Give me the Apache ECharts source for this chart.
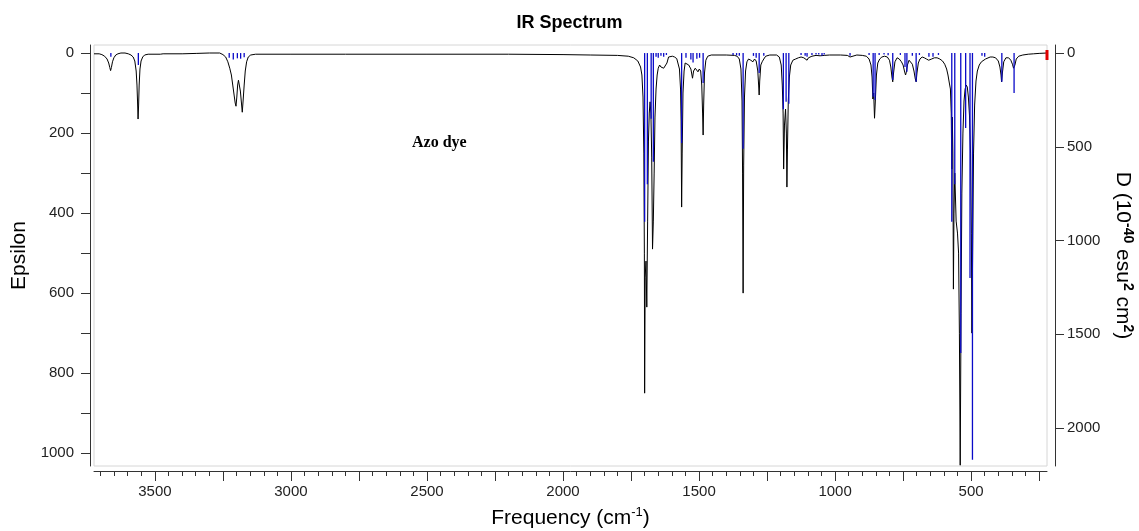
<!DOCTYPE html>
<html>
<head>
<meta charset="utf-8">
<script src="https://cdn.jsdelivr.net/npm/echarts@6/dist/echarts.min.js"></script>
<style>
html,body{margin:0;padding:0;background:#fff;}
#chart{width:1139px;height:531px;}
</style>
</head>
<body>
<div id="chart"></div>
<script>
// ---------- data ----------
var xTickMinor = [];
for (var t = 250; t <= 3700; t += 50) xTickMinor.push(t);
var xTickMajor = [250, 500, 750, 1000, 1250, 1500, 1750, 2000, 2250, 2500, 2750, 3000, 3250, 3500];
var xLabels = [500, 1000, 1500, 2000, 2500, 3000, 3500];
var epsTicks = [0, 100, 200, 300, 400, 500, 600, 700, 800, 900, 1000];
var epsLabels = [0, 200, 400, 600, 800, 1000];
var dTicks = [0, 500, 1000, 1500, 2000];

// broadened spectrum (frequency cm-1, epsilon)
var curve = [
[3724,2],[3705,2],[3695,4],[3685,8],[3676,15],[3670,25],[3666,36],[3663,44],[3660,36],[3656,22],[3651,12],[3644,5],[3636,2],[3625,0],[3610,0],[3598,2],[3588,5],[3580,10],[3574,20],[3569,45],[3566,80],[3564,120],[3562,165],[3560,130],[3558,80],[3555,40],[3551,20],[3545,10],[3538,5],[3525,3],[3480,3],[3470,2],[3400,2],[3346,1],[3300,0],[3262,0],[3250,4],[3240,10],[3232,22],[3225,38],[3219,55],[3214,80],[3209,105],[3205,125],[3202,133],[3199,110],[3196,80],[3193,68],[3190,72],[3186,95],[3182,125],[3179,148],[3176,120],[3172,80],[3168,45],[3163,22],[3157,10],[3148,5],[3130,3],
[3000,3],[2800,3],[2500,3],[2200,3],[2000,4],[1900,5],[1800,6],[1760,8],[1740,12],[1725,20],[1715,35],[1710,55],[1706,110],[1703,250],[1701,500],[1700,850],[1698,560],[1695,520],[1692,635],[1689,420],[1686,220],[1683,150],[1680,122],[1677,150],[1674,260],[1671,490],[1668,420],[1665,300],[1662,160],[1658,90],[1654,55],[1650,38],[1645,30],[1640,35],[1636,32],[1630,38],[1624,35],[1618,25],[1612,10],[1605,6],[1598,8],[1590,10],[1582,14],[1577,18],[1572,40],[1568,90],[1566,170],[1564,385],[1562,250],[1559,100],[1555,45],[1551,25],[1545,28],[1538,30],[1530,40],[1524,63],[1520,45],[1514,38],[1508,40],[1504,47],[1499,40],[1494,45],[1490,80],[1487,150],[1485,205],[1483,130],[1480,50],[1475,18],[1468,8],[1455,5],[1400,5],[1370,6],[1360,8],[1352,15],[1346,40],[1342,120],[1340,300],[1338,600],[1336,280],[1333,110],[1329,45],[1324,22],[1318,15],[1310,18],[1302,22],[1296,15],[1290,20],[1284,45],[1281,80],[1279,105],[1277,70],[1273,30],[1268,22],[1262,15],[1255,8],[1240,5],[1215,5],[1205,10],[1198,30],[1194,80],[1191,150],[1189,290],[1186,180],[1182,140],[1179,200],[1177,335],[1175,240],[1172,120],[1168,60],[1163,30],[1155,18],[1145,15],[1135,12],[1125,10],[1115,12],[1108,15],[1103,18],[1098,12],[1085,8],[1070,6],[1055,7],[1048,10],[1040,6],[1020,5],[980,5],[955,6],[945,10],[938,6],[920,5],[900,6],[885,8],[875,15],[868,30],[864,60],[861,115],[858,100],[855,163],[852,120],[848,55],[843,25],[836,15],[828,10],[818,8],[808,10],[800,18],[795,35],[791,60],[788,72],[785,50],[780,22],[772,12],[764,15],[756,22],[750,30],[745,45],[741,55],[738,48],[734,30],[728,18],[722,20],[716,28],[710,45],[705,65],[702,72],[699,50],[694,25],[688,15],[680,10],[672,12],[664,15],[656,18],[651,20],[645,15],[635,12],[625,12],[615,15],[605,20],[597,28],[590,40],[585,55],[580,75],[576,90],[573,150],[571,290],[569,160],[567,250],[565,590],[563,400],[560,300],[555,420],[550,450],[546,500],[543,700],[540,1030],[537,650],[534,350],[530,200],[526,120],[522,90],[518,80],[514,85],[510,110],[506,155],[502,250],[499,450],[497,700],[494,480],[491,250],[487,130],[482,70],[477,45],[470,30],[462,22],[455,18],[447,15],[440,12],[430,10],[420,10],[410,12],[400,20],[394,35],[390,55],[388,72],[385,50],[380,22],[372,12],[362,12],[354,18],[348,28],[344,38],[342,42],[339,30],[334,15],[325,8],[310,5],[290,3],[270,2],[250,1],[221,0]
];

// stick spectrum (frequency cm-1, D in 10^-40 esu^2 cm^2)
var sticks = [
[3662,20],[3561,64],[3227,25],[3212,35],[3197,28],[3185,30],[3172,22],
[1700,900],[1690,700],[1676,350],[1668,580],[1658,20],[1650,25],[1640,15],[1630,20],[1620,10],
[1564,480],[1548,25],[1530,35],[1522,50],[1508,30],[1498,25],[1485,160],
[1375,10],[1362,12],[1352,15],[1338,510],[1300,15],[1290,25],[1279,107],[1262,15],
[1190,300],[1180,260],[1170,270],[1125,10],[1110,15],[1103,20],[1085,10],[1070,8],[1060,8],[1048,15],[1040,8],
[945,15],[875,10],[860,233],[853,250],[838,10],[820,8],[805,12],[788,144],[760,10],[743,75],[736,100],[716,15],[702,153],[690,10],[655,20],[640,20],[620,10],
[571,900],[560,700],[538,1600],[520,400],[504,1200],[495,2170],[460,15],[450,20],[387,153],[342,213]
];

// ---------- chart ----------
var chart = echarts.init(document.getElementById('chart'), null, {renderer: 'canvas'});
var FONT = 'Liberation Sans, Arial, sans-serif';
function plain(v) { return String(v); }
var labelStyle = {color: '#222', fontSize: 15, fontFamily: FONT, formatter: plain};
var xMin = 221, xMax = 3724;

var option = {
  animation: false,
  backgroundColor: '#fff',
  title: {
    text: 'IR Spectrum', left: 'center', top: 9,
    textStyle: {fontSize: 18, fontWeight: 'bold', fontFamily: FONT, color: '#000'}
  },
  grid: {left: 94, right: 92, top: 45, bottom: 65, show: true, borderColor: '#d6d6d6', borderWidth: 1,
    containLabel: false, outerBoundsMode: 'none'},
  graphic: [{
    type: 'text', left: 412, top: 135,
    style: {text: 'Azo dye', fontSize: 16, fontWeight: 'bold', fontFamily: 'Liberation Serif, Times New Roman, serif', fill: '#000'}
  }],
  xAxis: [{
    type: 'value', min: xMin, max: xMax, inverse: true, position: 'bottom', offset: 5,
    axisLine: {show: true, onZero: false, lineStyle: {color: '#333', width: 1}},
    axisTick: {show: true, length: 5, customValues: xTickMinor, lineStyle: {color: '#333'}},
    axisLabel: {show: false}, splitLine: {show: false}
  }, {
    type: 'value', min: xMin, max: xMax, inverse: true, position: 'bottom', offset: 5,
    name: 'Frequency (cm{sup|-1})', nameLocation: 'middle', nameGap: 35,
    nameTextStyle: {fontSize: 21, fontFamily: FONT, color: '#000',
      rich: {sup: {fontSize: 13, fontFamily: FONT, color: '#000', padding: [0, 0, 11, 0]}}},
    axisLine: {show: false, onZero: false},
    axisTick: {show: true, length: 10, customValues: xTickMajor, lineStyle: {color: '#333'}},
    axisLabel: Object.assign({margin: 13, customValues: xLabels}, labelStyle),
    splitLine: {show: false}
  }],
  yAxis: [{
    type: 'value', min: -20, max: 1032, inverse: true, position: 'left', offset: 4,
    name: 'Epsilon', nameLocation: 'middle', nameGap: 55, nameRotate: 90,
    nameTextStyle: {fontSize: 21, fontFamily: FONT, color: '#000'},
    axisLine: {show: true, onZero: false, lineStyle: {color: '#333'}},
    axisTick: {show: true, length: 9, customValues: epsTicks, lineStyle: {color: '#333'}},
    axisLabel: Object.assign({margin: 16, customValues: epsLabels}, labelStyle),
    splitLine: {show: false}
  }, {
    type: 'value', min: -43, max: 2203, inverse: true, position: 'right', offset: 8,
    name: 'D (10{sup|-40} esu{sup|2} cm{sup|2})', nameLocation: 'middle', nameGap: 55, nameRotate: -90,
    nameTextStyle: {fontSize: 21, fontFamily: FONT, color: '#000',
      rich: {sup: {fontSize: 14, fontFamily: FONT, color: '#000', fontWeight: 'bold', padding: [0, 0, 11, 0]}}},
    axisLine: {show: true, onZero: false, lineStyle: {color: '#333'}},
    axisTick: {show: true, length: 9, customValues: dTicks, lineStyle: {color: '#333'}},
    axisLabel: Object.assign({margin: 12, customValues: dTicks}, labelStyle),
    splitLine: {show: false}
  }],
  series: [{
    type: 'custom', name: 'sticks', xAxisIndex: 0, yAxisIndex: 1, clip: true, z: 3,
    data: sticks,
    renderItem: function (params, api) {
      var x = api.value(0), d = api.value(1);
      var p0 = api.coord([x, 0]);
      var p1 = api.coord([x, d]);
      return {type: 'line', shape: {x1: p0[0], y1: p0[1], x2: p1[0], y2: p1[1]},
        style: {stroke: '#0a0ac8', lineWidth: 1.3}};
    }
  }, {
    type: 'line', name: 'spectrum', xAxisIndex: 0, yAxisIndex: 0, data: curve,
    showSymbol: false, symbol: 'none', clip: true, z: 2,
    lineStyle: {color: '#000', width: 1},
    markPoint: {
      symbol: 'rect', symbolSize: [3, 10], silent: true,
      itemStyle: {color: '#e00000'}, label: {show: false},
      data: [{coord: [xMin, 5]}]
    }
  }]
};
chart.setOption(option);
</script>
</body>
</html>
